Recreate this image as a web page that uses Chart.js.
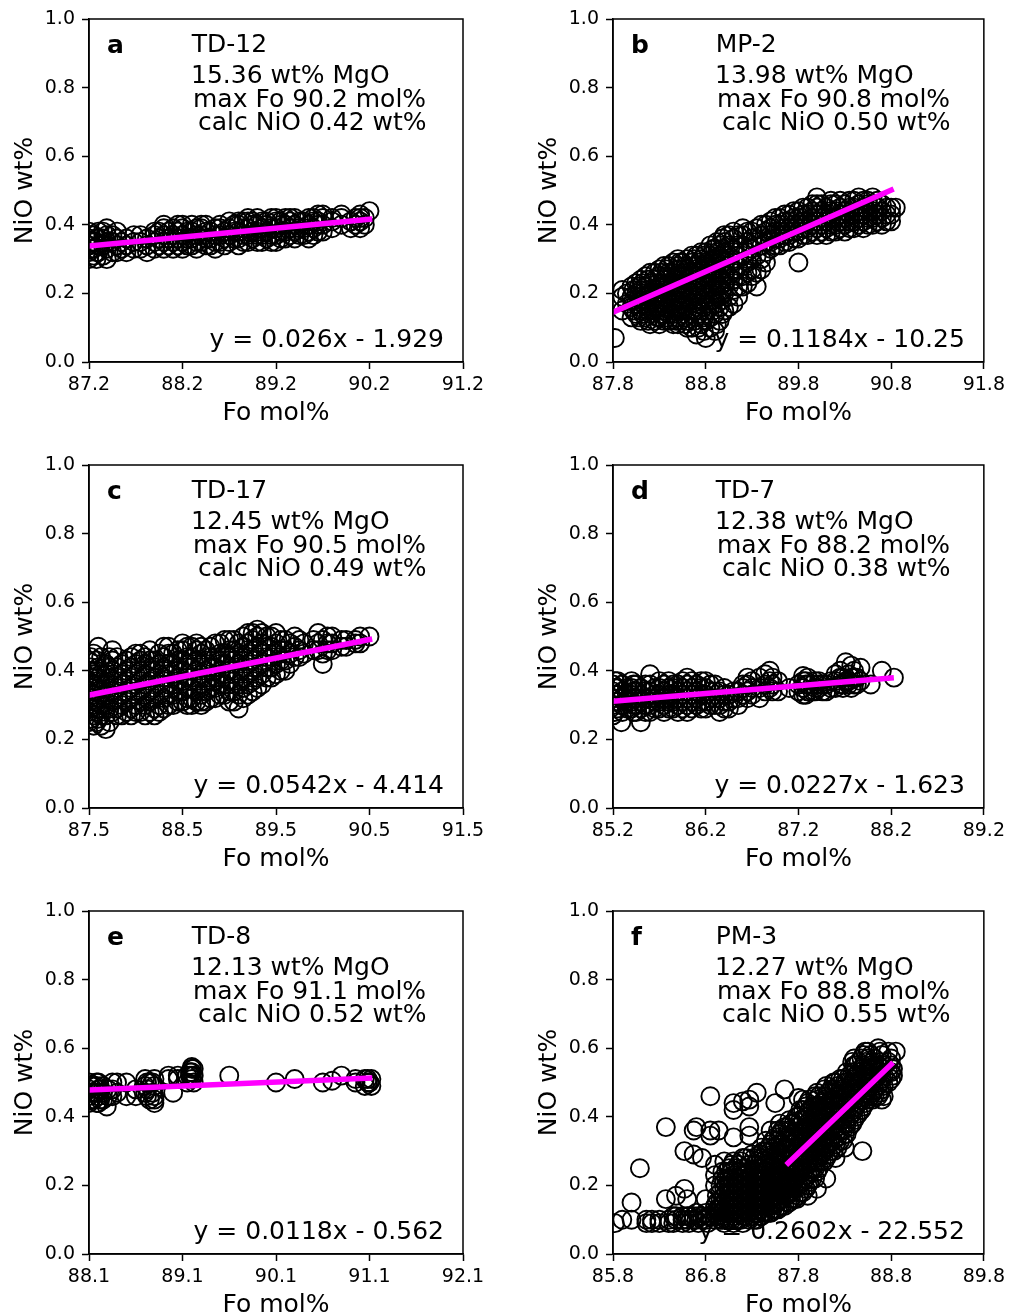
<!DOCTYPE html>
<html><head><meta charset="utf-8">
<script src="https://cdn.jsdelivr.net/npm/chart.js@4.4.1/dist/chart.umd.min.js"></script>
<style>
html,body{margin:0;padding:0;background:#fff;overflow:hidden;width:1010px;height:1316px;position:relative;}
canvas{position:absolute;}
</style></head><body>
<canvas id="c0" width="505" height="426" style="left:0;top:0"></canvas>
<canvas id="c1" width="486" height="426" style="left:524px;top:0"></canvas>
<canvas id="c2" width="505" height="426" style="left:0;top:446px"></canvas>
<canvas id="c3" width="486" height="426" style="left:524px;top:446px"></canvas>
<canvas id="c4" width="505" height="426" style="left:0;top:892px"></canvas>
<canvas id="c5" width="486" height="426" style="left:524px;top:892px"></canvas>
<script>
// ---- labels ----
const letters = ['a','b','c','d','e','f'];
const samples = ['TD-12','MP-2','TD-17','TD-7','TD-8','PM-3'];
const mgoText = ['15.36 wt% MgO','13.98 wt% MgO','12.45 wt% MgO','12.38 wt% MgO','12.13 wt% MgO','12.27 wt% MgO'];
const maxFoText = ['max Fo 90.2 mol%','max Fo 90.8 mol%','max Fo 90.5 mol%','max Fo 88.2 mol%','max Fo 91.1 mol%','max Fo 88.8 mol%'];
const calcText = ['calc NiO 0.42 wt%','calc NiO 0.50 wt%','calc NiO 0.49 wt%','calc NiO 0.38 wt%','calc NiO 0.52 wt%','calc NiO 0.55 wt%'];
const eqText = ['y = 0.026x - 1.929','y = 0.1184x - 10.25','y = 0.0542x - 4.414','y = 0.0227x - 1.623','y = 0.0118x - 0.562','y = 0.2602x - 22.552'];
const xRanges = [[87.2,91.2],[87.8,91.8],[87.5,91.5],[85.2,89.2],[88.1,92.1],[85.8,89.8]];
const yRange = [0,1];

// ---- fit lines (read endpoints) ----
const fitA = [[87.2,0.338],[90.2,0.416]];
const fitB = [[87.8,0.145],[90.8,0.501]];
const fitC = [[87.5,0.329],[90.5,0.491]];
const fitD = [[85.2,0.311],[88.2,0.379]];
const fitE = [[88.1,0.478],[91.1,0.513]];
const fitF = [[87.69,0.265],[88.8,0.553]];

// ---- olivine analyses: [Fo, [NiO values at that Fo]] ----
const colsA = [
[87.2,[0.30,0.32,0.34,0.36,0.38]],[87.25,[0.31,0.33,0.35,0.37]],[87.3,[0.32,0.34,0.36,0.38]],
[87.39,[0.30,0.33,0.35,0.37,0.39]],[87.5,[0.32,0.34,0.36,0.38]],[87.6,[0.32,0.34,0.36]],
[87.75,[0.33,0.35,0.37]],[87.9,[0.33,0.35,0.37,0.38]],[88.0,[0.33,0.35,0.37,0.39,0.40]],
[88.05,[0.34,0.36,0.38]],[88.2,[0.33,0.35,0.37,0.39,0.40]],[88.3,[0.34,0.36,0.38,0.40]],
[88.4,[0.35,0.37,0.39,0.40]],[88.5,[0.34,0.36,0.38]],[88.55,[0.33,0.35,0.37,0.39]],
[88.7,[0.35,0.37,0.39,0.41]],[88.8,[0.34,0.36,0.38,0.40,0.41]],[88.9,[0.35,0.37,0.39,0.41,0.42]],
[89.0,[0.35,0.37,0.38,0.40,0.42]],[89.1,[0.36,0.38,0.40,0.41]],[89.2,[0.35,0.37,0.39,0.41,0.42]],
[89.3,[0.36,0.38,0.40,0.42]],[89.4,[0.36,0.38,0.40,0.42]],[89.5,[0.37,0.39,0.41]],
[89.6,[0.37,0.39,0.41,0.42]],[89.7,[0.38,0.40,0.42,0.43]],[89.9,[0.40,0.42,0.43]],
[90.0,[0.39,0.41]],[90.1,[0.39,0.41,0.42,0.43]],[90.2,[0.44]]
];
const colsA2 = [
[87.22,[0.33,0.35,0.37]],[87.28,[0.30,0.32,0.36]],[87.35,[0.31,0.34,0.36,0.38]],[87.45,[0.32,0.35,0.37]],
[87.55,[0.33,0.35]],[87.68,[0.33,0.35,0.37]],[87.82,[0.32,0.34,0.36]],[87.95,[0.34,0.36,0.38]],
[88.1,[0.33,0.35,0.37,0.39]],[88.15,[0.34,0.36,0.38,0.40]],[88.25,[0.34,0.36,0.38]],
[88.35,[0.33,0.35,0.37,0.39]],[88.45,[0.34,0.36,0.38,0.40]],[88.6,[0.35,0.37,0.39,0.40]],
[88.65,[0.34,0.36,0.38]],[88.75,[0.36,0.38,0.40]],[88.85,[0.35,0.37,0.39,0.41]],
[88.95,[0.36,0.38,0.40,0.41]],[89.05,[0.35,0.37,0.39,0.41]],[89.15,[0.35,0.37,0.39,0.42]],
[89.25,[0.36,0.38,0.40,0.41]],[89.35,[0.37,0.39,0.41,0.42]],[89.45,[0.37,0.39,0.41]],
[89.55,[0.36,0.38,0.40,0.42]],[89.65,[0.38,0.40,0.41,0.43]],[89.8,[0.39,0.41,0.42]],
[90.05,[0.40,0.42]],[90.15,[0.40,0.42]]
];
const colsB = [
[87.82,[0.07]],[87.9,[0.15,0.19,0.21]],[88.0,[0.13,0.16,0.19,0.22]],[88.05,[0.14,0.17,0.20,0.23]],
[88.1,[0.12,0.15,0.18,0.21,0.24]],[88.15,[0.13,0.16,0.19,0.22,0.25]],[88.2,[0.11,0.14,0.17,0.20,0.23,0.26]],
[88.3,[0.11,0.13,0.16,0.19,0.22,0.25,0.27]],[88.35,[0.12,0.15,0.18,0.21,0.24,0.28]],
[88.4,[0.12,0.14,0.17,0.20,0.23,0.26,0.28]],[88.5,[0.11,0.13,0.16,0.19,0.22,0.25,0.28,0.30]],
[88.55,[0.14,0.17,0.20,0.23,0.26,0.29]],[88.6,[0.10,0.12,0.15,0.18,0.21,0.24,0.27,0.30]],
[88.7,[0.08,0.13,0.16,0.19,0.22,0.25,0.28,0.31]],[88.75,[0.11,0.15,0.18,0.21,0.24,0.27,0.30,0.32]],
[88.8,[0.07,0.12,0.17,0.20,0.23,0.26,0.29,0.32]],[88.9,[0.09,0.14,0.18,0.21,0.24,0.27,0.30,0.33]],
[88.95,[0.12,0.16,0.19,0.22,0.25,0.28,0.31,0.34]],[89.0,[0.15,0.20,0.23,0.26,0.29,0.32,0.35,0.37]],
[89.1,[0.17,0.21,0.24,0.27,0.30,0.33,0.36,0.38]],[89.2,[0.22,0.25,0.28,0.31,0.34,0.37,0.39]],
[89.3,[0.25,0.27,0.30,0.33,0.36,0.38]],[89.35,[0.22,0.26,0.31,0.35,0.39]],[89.4,[0.27,0.30,0.34,0.37,0.40]],
[89.5,[0.33,0.35,0.37,0.39,0.41]],[89.6,[0.34,0.36,0.38,0.40,0.42]],[89.7,[0.35,0.37,0.39,0.41,0.43]],
[89.8,[0.29,0.36,0.38,0.40,0.42,0.44]],[89.9,[0.37,0.39,0.41,0.43,0.45]],[90.0,[0.37,0.39,0.41,0.43,0.45,0.46,0.48]],
[90.1,[0.37,0.39,0.41,0.43,0.45]],[90.2,[0.38,0.40,0.42,0.44,0.46]],[90.3,[0.38,0.40,0.42,0.44,0.46]],
[90.4,[0.39,0.41,0.43,0.45,0.47]],[90.5,[0.39,0.41,0.43,0.45,0.47]],[90.6,[0.40,0.42,0.44,0.46,0.48]],
[90.7,[0.40,0.42,0.44,0.46]],[90.8,[0.41,0.43,0.45]],[90.85,[0.45]]
];
const colsB2 = [
[87.95,[0.17,0.20]],[88.02,[0.15,0.18,0.21]],[88.08,[0.13,0.16,0.19,0.22]],[88.12,[0.14,0.17,0.20,0.23]],
[88.18,[0.12,0.15,0.18,0.21,0.24]],[88.25,[0.12,0.15,0.18,0.21,0.24,0.26]],[88.28,[0.13,0.17,0.20,0.23]],
[88.32,[0.14,0.17,0.20,0.23,0.26]],[88.38,[0.13,0.16,0.19,0.22,0.25,0.27]],
[88.45,[0.11,0.14,0.17,0.20,0.23,0.26,0.29]],[88.48,[0.12,0.15,0.18,0.21,0.24,0.27]],
[88.52,[0.12,0.15,0.18,0.21,0.24,0.27,0.29]],[88.58,[0.11,0.13,0.16,0.19,0.22,0.25,0.28]],
[88.65,[0.10,0.14,0.17,0.20,0.23,0.26,0.29,0.31]],[88.68,[0.12,0.15,0.18,0.21,0.24,0.27,0.30]],
[88.72,[0.10,0.14,0.17,0.20,0.23,0.26,0.29]],[88.78,[0.09,0.13,0.16,0.19,0.22,0.25,0.28,0.31]],
[88.85,[0.10,0.13,0.16,0.19,0.22,0.25,0.28,0.31,0.34]],[88.88,[0.15,0.18,0.21,0.24,0.27,0.30,0.33]],
[88.92,[0.11,0.17,0.20,0.23,0.26,0.29,0.32,0.35]],[88.98,[0.14,0.18,0.21,0.24,0.27,0.30,0.33,0.36]],
[89.05,[0.16,0.19,0.22,0.25,0.28,0.31,0.34,0.37]],[89.15,[0.19,0.22,0.25,0.28,0.31,0.34,0.37]],
[89.25,[0.23,0.26,0.29,0.32,0.35,0.38]],[89.45,[0.29,0.32,0.35,0.38,0.40]],
[89.55,[0.34,0.36,0.38,0.40,0.42]],[89.65,[0.35,0.37,0.39,0.41,0.43]],[89.75,[0.36,0.38,0.40,0.42,0.44]],
[89.85,[0.37,0.39,0.41,0.43,0.45]],[89.95,[0.38,0.40,0.42,0.44,0.46]],[90.05,[0.38,0.40,0.42,0.44,0.46]],
[90.15,[0.38,0.40,0.42,0.44,0.46,0.47]],[90.25,[0.39,0.41,0.43,0.45,0.47]],[90.35,[0.39,0.41,0.43,0.45,0.47]],
[90.45,[0.40,0.42,0.44,0.46,0.48]],[90.55,[0.40,0.42,0.44,0.46,0.47]],[90.65,[0.41,0.43,0.45,0.47]],
[90.75,[0.41,0.43,0.45]]
];
const colsC = [
[87.5,[0.25,0.28,0.31,0.34,0.37,0.40,0.43]],[87.55,[0.24,0.27,0.30,0.33,0.36,0.39,0.45]],
[87.6,[0.26,0.29,0.32,0.35,0.38,0.41,0.47]],[87.68,[0.23,0.27,0.30,0.33,0.36,0.39,0.42]],
[87.75,[0.28,0.31,0.34,0.37,0.40,0.43,0.46]],[87.85,[0.27,0.30,0.33,0.36,0.39,0.42]],
[87.95,[0.27,0.29,0.32,0.35,0.38,0.41,0.44]],[88.05,[0.28,0.31,0.34,0.37,0.40,0.43,0.45]],
[88.1,[0.27,0.30,0.33,0.36,0.39,0.42,0.44]],[88.2,[0.27,0.29,0.32,0.35,0.38,0.41,0.43]],
[88.3,[0.29,0.32,0.35,0.38,0.41,0.44,0.47]],[88.4,[0.30,0.33,0.36,0.39,0.42,0.45]],
[88.5,[0.31,0.34,0.37,0.40,0.43,0.46,0.48]],[88.6,[0.30,0.32,0.35,0.38,0.41,0.44,0.47]],
[88.7,[0.30,0.31,0.33,0.36,0.39,0.42,0.45,0.47]],[88.75,[0.31,0.34,0.37,0.40,0.43,0.46]],
[88.85,[0.32,0.35,0.38,0.41,0.44,0.48]],[88.95,[0.33,0.36,0.39,0.42,0.45,0.49]],
[89.05,[0.31,0.34,0.37,0.40,0.43,0.46,0.49]],[89.1,[0.29,0.33,0.36,0.39,0.42,0.45,0.48]],
[89.2,[0.33,0.36,0.39,0.42,0.45,0.48,0.51]],[89.3,[0.35,0.38,0.41,0.44,0.47,0.50,0.52]],
[89.4,[0.38,0.41,0.44,0.47,0.50]],[89.5,[0.39,0.42,0.45,0.48,0.51]],[89.6,[0.40,0.43,0.46,0.49]],
[89.7,[0.44,0.47,0.50]],[89.8,[0.45,0.48]],[89.95,[0.46,0.48,0.51]],[90.0,[0.42,0.45,0.49]],
[90.1,[0.46,0.48,0.50]],[90.25,[0.47,0.49]],[90.35,[0.48,0.49]],[90.5,[0.50]]
];
const colsC2 = [
[87.52,[0.26,0.29,0.32,0.35,0.38,0.41,0.44]],[87.58,[0.25,0.28,0.31,0.34,0.37,0.40,0.43]],
[87.63,[0.24,0.27,0.30,0.33,0.36,0.39,0.44]],[87.72,[0.25,0.29,0.32,0.35,0.38,0.41,0.44]],
[87.8,[0.27,0.29,0.32,0.35,0.38,0.41,0.44]],[87.9,[0.28,0.31,0.34,0.37,0.40,0.43]],
[88.0,[0.28,0.30,0.33,0.36,0.39,0.42,0.45]],[88.15,[0.28,0.31,0.34,0.37,0.40,0.43,0.46]],
[88.25,[0.28,0.30,0.33,0.36,0.39,0.42,0.45]],[88.35,[0.30,0.33,0.36,0.39,0.42,0.45,0.47]],
[88.45,[0.31,0.34,0.37,0.40,0.43,0.46]],[88.55,[0.30,0.32,0.35,0.38,0.41,0.44,0.47]],
[88.65,[0.31,0.34,0.37,0.40,0.43,0.46,0.48]],[88.8,[0.32,0.35,0.38,0.41,0.44,0.47]],
[88.9,[0.33,0.36,0.39,0.42,0.45,0.48]],[89.0,[0.31,0.34,0.37,0.40,0.43,0.46,0.49]],
[89.15,[0.32,0.35,0.38,0.41,0.44,0.47,0.50]],[89.25,[0.34,0.37,0.40,0.43,0.46,0.49,0.51]],
[89.35,[0.36,0.39,0.42,0.45,0.48,0.51]],[89.45,[0.38,0.41,0.44,0.47,0.50]],
[89.55,[0.40,0.43,0.46,0.49]],[89.65,[0.42,0.45,0.48]],[89.75,[0.44,0.46,0.49]],
[89.9,[0.46,0.49]],[90.05,[0.46,0.48,0.50]],[90.2,[0.47,0.49]],[90.4,[0.48,0.50]]
];
const colsD = [
[85.2,[0.27,0.30,0.32,0.34,0.36]],[85.25,[0.29,0.31,0.33,0.35,0.37]],[85.29,[0.25]],
[85.3,[0.28,0.30,0.32,0.34,0.36]],[85.4,[0.29,0.31,0.33,0.35,0.37]],[85.45,[0.28,0.30,0.32,0.34,0.36]],
[85.5,[0.25,0.29,0.31,0.33,0.35]],[85.6,[0.28,0.30,0.32,0.34,0.36,0.39]],[85.65,[0.29,0.31,0.33,0.35]],
[85.75,[0.28,0.30,0.32,0.34,0.36]],[85.8,[0.29,0.31,0.33,0.35,0.37]],[85.9,[0.28,0.30,0.32,0.34,0.36]],
[85.95,[0.29,0.31,0.33,0.35,0.37]],[86.05,[0.29,0.31,0.33,0.35,0.37]],[86.1,[0.30,0.32,0.34,0.36]],
[86.2,[0.29,0.31,0.33,0.35,0.37]],[86.3,[0.30,0.32,0.34,0.36]],[86.35,[0.28,0.30,0.32,0.34]],
[86.45,[0.29,0.31,0.33]],[86.5,[0.32,0.34]],[86.6,[0.33,0.35,0.36]],[86.7,[0.33,0.35,0.37]],
[86.78,[0.32,0.35,0.38]],[86.84,[0.34,0.36,0.39]],[86.89,[0.35,0.37,0.40]],[86.98,[0.34,0.37]],
[87.1,[0.35]],[87.25,[0.33,0.35,0.37,0.385]],[87.3,[0.34,0.36,0.38]],[87.35,[0.34,0.36]],
[87.42,[0.35,0.36,0.37]],[87.5,[0.34,0.36]],[87.6,[0.35,0.37,0.39]],[87.65,[0.36,0.38,0.40]],
[87.71,[0.37,0.425]],[87.77,[0.35,0.38,0.415]],[87.8,[0.36,0.38,0.40]],[87.87,[0.37,0.409]],
[87.98,[0.36]],[88.1,[0.40]],[88.23,[0.38]]
];
const colsD2 = [
[85.22,[0.28,0.31,0.33,0.35,0.37]],[85.35,[0.29,0.31,0.33,0.35]],[85.42,[0.28,0.30,0.32,0.34,0.36]],
[85.55,[0.28,0.30,0.32,0.34,0.36]],[85.7,[0.29,0.31,0.33,0.35,0.37]],[85.85,[0.29,0.31,0.33,0.35,0.36]],
[86.0,[0.28,0.30,0.32,0.34,0.36,0.38]],[86.15,[0.29,0.31,0.33,0.35,0.37]],[86.25,[0.30,0.32,0.34,0.36]],
[86.4,[0.29,0.31,0.33,0.35]],[86.55,[0.30,0.32,0.34]],[86.65,[0.32,0.34,0.36,0.38]],
[86.92,[0.34,0.36,0.38]],[87.2,[0.34,0.36]],[87.28,[0.33,0.36,0.37]],[87.38,[0.34,0.35,0.37]],
[87.46,[0.34,0.36]],[87.55,[0.35,0.37]],[87.68,[0.35,0.36,0.38]],[87.74,[0.36,0.37,0.39]],
[87.83,[0.36,0.38]]
];
const colsE = [
[88.1,[0.44,0.46,0.48,0.50]],[88.15,[0.45,0.47,0.49]],[88.2,[0.44,0.46,0.48,0.50]],
[88.25,[0.45,0.47,0.49]],[88.29,[0.43]],[88.35,[0.46,0.48,0.50]],[88.4,[0.47,0.50]],
[88.5,[0.46,0.50]],[88.6,[0.46,0.48]],[88.7,[0.47,0.49,0.51]],[88.75,[0.45,0.50]],
[88.8,[0.44,0.45,0.46,0.49,0.51]],[88.95,[0.51,0.52]],[89.0,[0.47]],[89.05,[0.51,0.52]],
[89.15,[0.50,0.52]],[89.2,[0.51,0.52,0.53,0.54,0.545]],[89.6,[0.52]],[90.1,[0.50]],
[90.3,[0.51]],[90.6,[0.50]],[90.7,[0.505]],[90.8,[0.52]],[90.95,[0.50,0.51]],
[91.05,[0.49,0.51]],[91.1,[0.50,0.50]]
];
const colsE2 = [
[88.12,[0.45,0.47,0.49]],[88.18,[0.44,0.47,0.49,0.50]],[88.22,[0.45,0.48]],[88.3,[0.46,0.48]],
[88.72,[0.46,0.48,0.50]],[88.78,[0.47,0.50]],[89.18,[0.52,0.53]],[89.22,[0.50,0.52,0.54]],
[91.08,[0.50,0.51]],[91.12,[0.49,0.51]]
];
const colsF = [
[85.82,[0.09]],[85.9,[0.10]],[86.0,[0.10,0.15]],[86.09,[0.25]],[86.16,[0.09,0.10]],
[86.22,[0.09,0.10]],[86.37,[0.37,0.16]],[86.4,[0.10,0.09]],[86.48,[0.17,0.10,0.11]],
[86.55,[0.10,0.09,0.11]],[86.57,[0.19,0.30]],[86.6,[0.10,0.11,0.16]],[86.67,[0.29,0.36,0.10,0.11]],
[86.7,[0.37,0.10,0.12]],[86.76,[0.28,0.10,0.11]],[86.8,[0.16,0.10,0.12]],[86.85,[0.36,0.46,0.11,0.345]],
[86.9,[0.10,0.12,0.14,0.20,0.23,0.26]],[86.94,[0.36,0.11,0.13]],[86.98,[0.24,0.22,0.10,0.12]],
[87.0,[0.09,0.11,0.13,0.15,0.17,0.19,0.21,0.27]],[87.05,[0.10,0.12,0.14,0.16,0.18,0.20,0.22,0.25]],
[87.1,[0.09,0.11,0.13,0.15,0.17,0.19,0.21,0.23,0.27,0.42,0.44,0.34]],
[87.15,[0.10,0.12,0.14,0.16,0.18,0.20,0.22,0.24,0.26]],
[87.2,[0.09,0.11,0.13,0.15,0.17,0.19,0.21,0.23,0.25,0.28,0.445]],
[87.27,[0.10,0.12,0.14,0.16,0.18,0.20,0.22,0.24,0.26,0.345,0.37,0.43,0.45]],
[87.3,[0.11,0.13,0.15,0.17,0.19,0.21,0.23,0.29]],
[87.35,[0.10,0.12,0.14,0.16,0.18,0.20,0.22,0.24,0.27,0.47]],
[87.4,[0.11,0.13,0.15,0.17,0.19,0.21,0.23,0.25,0.28,0.31]],
[87.45,[0.12,0.14,0.16,0.18,0.20,0.22,0.24,0.26,0.30,0.33]],
[87.5,[0.12,0.14,0.16,0.18,0.20,0.22,0.24,0.27,0.30,0.32,0.36]],
[87.55,[0.13,0.15,0.17,0.19,0.21,0.23,0.25,0.28,0.31,0.34,0.44]],
[87.6,[0.14,0.16,0.18,0.20,0.22,0.24,0.26,0.29,0.32,0.35,0.38]],
[87.65,[0.14,0.17,0.19,0.21,0.23,0.25,0.28,0.31,0.34,0.37,0.48]],
[87.7,[0.15,0.18,0.20,0.22,0.24,0.27,0.30,0.33,0.36,0.39]],
[87.75,[0.16,0.19,0.21,0.24,0.26,0.29,0.32,0.35,0.38]],
[87.8,[0.17,0.20,0.23,0.25,0.28,0.31,0.34,0.37,0.40,0.455]],
[87.85,[0.18,0.21,0.24,0.27,0.30,0.33,0.36,0.39,0.42,0.45]],
[87.9,[0.17,0.20,0.23,0.26,0.29,0.32,0.35,0.38,0.41,0.44]],
[87.95,[0.22,0.25,0.28,0.31,0.34,0.37,0.40,0.43]],
[88.0,[0.19,0.24,0.27,0.30,0.33,0.36,0.39,0.42,0.45,0.47]],
[88.05,[0.27,0.29,0.32,0.35,0.38,0.41,0.44]],
[88.1,[0.22,0.28,0.31,0.34,0.37,0.40,0.43,0.46,0.49]],
[88.15,[0.30,0.33,0.36,0.39,0.42,0.45,0.48]],
[88.2,[0.28,0.32,0.35,0.38,0.41,0.44,0.47,0.50]],
[88.25,[0.33,0.36,0.39,0.42,0.45,0.48,0.51]],
[88.3,[0.31,0.35,0.38,0.41,0.44,0.47,0.50]],
[88.35,[0.37,0.40,0.43,0.46,0.49,0.52]],
[88.4,[0.39,0.42,0.45,0.48,0.51,0.55,0.57]],
[88.45,[0.41,0.44,0.47,0.50,0.53,0.56]],
[88.49,[0.30]],
[88.5,[0.43,0.46,0.49,0.52,0.55,0.58]],
[88.55,[0.45,0.48,0.51,0.54,0.57,0.59]],
[88.6,[0.45,0.47,0.50,0.53,0.56]],
[88.66,[0.46,0.49,0.52,0.55,0.60]],
[88.7,[0.45,0.48,0.51,0.54,0.58]],
[88.77,[0.50,0.53,0.56,0.59]],
[88.82,[0.52,0.54]],
[88.85,[0.59]]
];
const colsF2 = [
[86.3,[0.09,0.10]],[86.45,[0.09,0.11]],[86.62,[0.09,0.11]],[86.72,[0.09,0.11]],[86.82,[0.09,0.11]],
[86.92,[0.11,0.13,0.15,0.17]],[86.96,[0.10,0.12,0.14,0.16,0.18,0.20]],
[87.02,[0.10,0.12,0.14,0.16,0.18,0.20,0.22,0.24]],[87.08,[0.10,0.12,0.14,0.16,0.18,0.20,0.22,0.24,0.26]],
[87.12,[0.10,0.12,0.14,0.16,0.18,0.20,0.22,0.25]],[87.18,[0.10,0.12,0.14,0.16,0.18,0.20,0.22,0.24,0.27]],
[87.23,[0.11,0.13,0.15,0.17,0.19,0.21,0.23,0.25,0.28]],[87.32,[0.10,0.12,0.14,0.16,0.18,0.20,0.22,0.24,0.26,0.28]],
[87.38,[0.11,0.13,0.15,0.17,0.19,0.21,0.23,0.25,0.29]],[87.42,[0.12,0.14,0.16,0.18,0.20,0.22,0.24,0.27,0.30]],
[87.48,[0.12,0.14,0.16,0.18,0.20,0.22,0.25,0.28,0.31]],[87.52,[0.13,0.15,0.17,0.19,0.21,0.23,0.26,0.29,0.33]],
[87.58,[0.13,0.15,0.17,0.19,0.21,0.24,0.27,0.30,0.33,0.36]],[87.62,[0.14,0.16,0.18,0.20,0.23,0.26,0.29,0.32,0.36]],
[87.68,[0.15,0.17,0.20,0.22,0.25,0.28,0.31,0.34,0.37]],[87.72,[0.16,0.18,0.21,0.23,0.26,0.29,0.32,0.35,0.38]],
[87.78,[0.16,0.19,0.22,0.25,0.28,0.31,0.34,0.37,0.40]],[87.82,[0.18,0.21,0.24,0.27,0.30,0.33,0.36,0.39,0.42]],
[87.88,[0.19,0.22,0.25,0.28,0.31,0.34,0.37,0.40,0.43]],[87.92,[0.21,0.24,0.27,0.30,0.33,0.36,0.39,0.42,0.45]],
[87.98,[0.22,0.25,0.28,0.31,0.34,0.37,0.40,0.43,0.46]],[88.02,[0.25,0.28,0.31,0.34,0.37,0.40,0.43,0.46]],
[88.08,[0.27,0.30,0.33,0.36,0.39,0.42,0.45,0.48]],[88.12,[0.29,0.32,0.35,0.38,0.41,0.44,0.47]],
[88.18,[0.30,0.33,0.36,0.39,0.42,0.45,0.48,0.50]],[88.22,[0.31,0.34,0.37,0.40,0.43,0.46,0.49]],
[88.28,[0.33,0.36,0.39,0.42,0.45,0.48,0.51]],[88.32,[0.35,0.38,0.41,0.44,0.47,0.50,0.53]],
[88.38,[0.38,0.41,0.44,0.47,0.50,0.53,0.56]],[88.42,[0.40,0.43,0.46,0.49,0.52,0.55]],
[88.48,[0.42,0.45,0.48,0.51,0.54,0.57]],[88.52,[0.44,0.47,0.50,0.53,0.56,0.59]],
[88.58,[0.46,0.49,0.52,0.55,0.58]],[88.62,[0.46,0.48,0.51,0.54,0.57]],
[88.68,[0.47,0.50,0.53,0.56,0.59]],[88.72,[0.46,0.49,0.52,0.55]],[88.8,[0.51,0.53,0.55,0.57]]
];

const panelCols = [colsA.concat(colsA2), colsB.concat(colsB2), colsC.concat(colsC2),
                   colsD.concat(colsD2), colsE.concat(colsE2), colsF.concat(colsF2)];
const panelFits = [fitA,fitB,fitC,fitD,fitE,fitF];

Chart.defaults.font.family = "'DejaVu Sans'";
Chart.defaults.color = '#000';

const panelText = {
  id: 'panelText',
  afterDraw(chart, args, o) {
    const ctx = chart.ctx, a = chart.chartArea;
    ctx.save();
    ctx.fillStyle = '#000';
    ctx.textBaseline = 'alphabetic';
    ctx.textAlign = 'left';
    ctx.font = "bold 25px 'DejaVu Sans'";
    ctx.fillText(o.letter, a.left + 18, a.top + 33.5);
    ctx.font = "25px 'DejaVu Sans'";
    ctx.fillText(o.sample, a.left + 102.7, a.top + 33);
    ctx.fillText(o.mgo, a.left + 102, a.top + 63.5);
    ctx.fillText(o.maxFo, a.left + 104, a.top + 87.5);
    ctx.fillText(o.calc, a.left + 109, a.top + 111);
    ctx.textAlign = 'right';
    ctx.fillText(o.eq, a.right - 19, a.bottom - 15.5);
    ctx.strokeStyle = '#000';
    ctx.lineWidth = 1.5;
    ctx.strokeRect(a.left, a.top, a.right - a.left, a.bottom - a.top);
    ctx.restore();
  }
};

function expand(cols) {
  const pts = [];
  cols.forEach(([x, ys]) => ys.forEach(y => pts.push({x: x, y: y})));
  return pts;
}

for (let i = 0; i < 6; i++) {
  const rightPad = (i % 2 === 0) ? 42 : 22;
  new Chart(document.getElementById('c' + i), {
    type: 'scatter',
    data: {
      datasets: [
        {
          data: panelFits[i].map(p => ({x: p[0], y: p[1]})),
          showLine: true, borderColor: '#ff00ff', borderWidth: 5.5,
          borderCapStyle: 'square', pointRadius: 0, pointHoverRadius: 0,
          order: 0, clip: 0
        },
        {
          data: expand(panelCols[i]),
          pointStyle: 'circle', pointRadius: 9, pointHoverRadius: 9,
          borderColor: '#000', backgroundColor: 'rgba(0,0,0,0)', borderWidth: 1.9,
          pointBorderWidth: 1.9, order: 1, clip: 0
        }
      ]
    },
    options: {
      responsive: false, animation: false, events: [],
      layout: {padding: {top: 19, right: rightPad, left: 0, bottom: 0}},
      plugins: {
        legend: {display: false}, tooltip: {enabled: false},
        panelText: {
          letter: letters[i], sample: samples[i], mgo: mgoText[i],
          maxFo: maxFoText[i], calc: calcText[i], eq: eqText[i]
        }
      },
      scales: {
        x: {
          type: 'linear', min: xRanges[i][0], max: xRanges[i][1],
          ticks: {stepSize: 1, callback: v => Number(v).toFixed(1), font: {size: 19},
                  color: '#000', padding: 5, maxRotation: 0, autoSkip: false},
          grid: {drawOnChartArea: false, tickLength: 7, tickWidth: 1.5, tickColor: '#000'},
          border: {color: '#000', width: 1.5},
          title: {display: true, text: 'Fo mol%', font: {size: 25, lineHeight: 1}, color: '#000', padding: 0},
          afterFit: s => { s.height = 64; }
        },
        y: {
          type: 'linear', min: yRange[0], max: yRange[1],
          ticks: {stepSize: 0.2, callback: v => Number(v).toFixed(1), font: {size: 19},
                  color: '#000', padding: 7},
          grid: {drawOnChartArea: false, tickLength: 7, tickWidth: 1.5, tickColor: '#000'},
          border: {color: '#000', width: 1.5},
          title: {display: true, text: 'NiO wt%', font: {size: 25, lineHeight: 1}, color: '#000', padding: {top: 13, bottom: 0}},
          afterFit: s => { s.width = 89; }
        }
      }
    },
    plugins: [panelText]
  });
}
</script>
</body></html>
